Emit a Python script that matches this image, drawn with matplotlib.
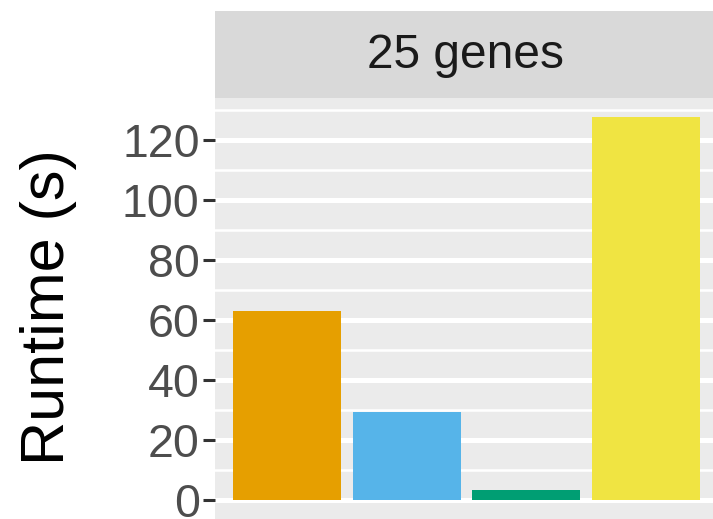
import matplotlib
matplotlib.use("Agg")
import matplotlib.pyplot as plt
from matplotlib.patches import Rectangle

# Data
methods = ["Method A", "Method B", "Method C", "Method D"]
runtime_s = [63.0, 29.3, 3.3, 127.7]
colors = ["#E69F00", "#56B4E9", "#009E73", "#F0E442"]
facet_label = "25 genes"
y_ticks = [0, 20, 40, 60, 80, 100, 120]
y_minor = [10, 30, 50, 70, 90, 110, 130]

plt.rcParams["font.family"] = ["Liberation Sans", "DejaVu Sans"]

W, H = 713, 519
fig = plt.figure(figsize=(W / 100, H / 100), dpi=100)

# panel in pixel coords: left 215, right ~718, top 98, bottom 519
pl, pr, pt, pb = 215, 718, 98, 519.5
ax = fig.add_axes([pl / W, 1 - pb / H, (pr - pl) / W, (pb - pt) / H])
ax.set_facecolor("#EBEBEB")

x = list(range(1, len(methods) + 1))
ax.bar(x, runtime_s, width=0.9, color=colors, zorder=3)

ymax = max(runtime_s)
exp = 0.05 * ymax
ax.set_ylim(-exp, ymax + exp)
ax.set_xlim(0.4, len(methods) + 0.6)

ax.set_yticks(y_ticks)
ax.set_yticks(y_minor, minor=True)
ax.set_xticks([])
ax.grid(which="major", axis="y", color="white", linewidth=3.6, zorder=1)
ax.grid(which="minor", axis="y", color="white", linewidth=1.8, zorder=1)
ax.tick_params(axis="y", which="major", length=9, width=2.2, color="#333333",
               labelsize=33.5, labelcolor="#4D4D4D", pad=2)
ax.tick_params(axis="y", which="minor", length=0)
for s in ax.spines.values():
    s.set_visible(False)

ax.set_ylabel("Runtime (s)", fontsize=44, color="black")
ax.yaxis.set_label_coords(77 / W, 1 - 307.5 / H, transform=fig.transFigure)

# facet strip
st_top, st_bot = 11, 98
sax = fig.add_axes([pl / W, 1 - st_bot / H, (pr - pl) / W, (st_bot - st_top) / H])
sax.set_xlim(0, 1)
sax.set_ylim(0, 1)
sax.add_patch(Rectangle((0, 0), 1, 1, facecolor="#D9D9D9", edgecolor="none"))
sax.axis("off")
fig.text((215 + 716) / 2 / W, 1 - 56 / H, facet_label, fontsize=34.5,
         color="#1A1A1A", ha="center", va="center")

fig.savefig("out.png", dpi=100)
